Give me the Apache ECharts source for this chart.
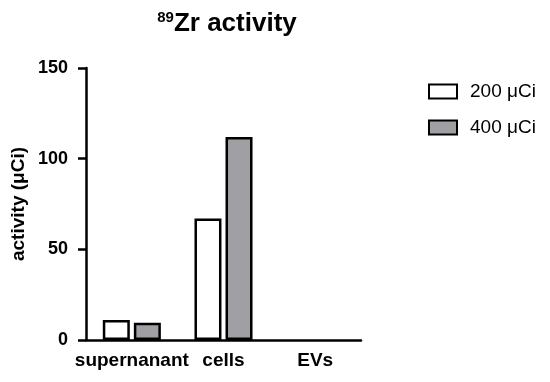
<!DOCTYPE html>
<html><head><meta charset="utf-8">
<script src="https://cdn.jsdelivr.net/npm/echarts@6/dist/echarts.min.js"></script>
<style>html,body{margin:0;padding:0;background:#fff}#c{width:550px;height:382px}</style>
</head><body><div id="c"></div>
<script>
const categories = ['supernanant', 'cells', 'EVs'];
const series200 = [11, 67, 0];
const series400 = [9.5, 112, 0];
const yTicks = [0, 50, 100, 150];

const toData = arr => arr.map(v => v === 0 ? {value: v, itemStyle: {borderWidth: 0}} : v);

const chart = echarts.init(document.getElementById('c'));
const font = 'Arial, Liberation Sans, sans-serif';
chart.setOption({
  animation: false,
  title: {
    text: '{sup|89}{main|Zr activity}',
    left: 222, top: 5, textAlign: 'center',
    textStyle: {
      rich: {
        sup: {fontSize: 15, fontWeight: 'bold', fontFamily: font, color: '#000', verticalAlign: 'top', padding: [0,0,12,0]},
        main: {fontSize: 26, fontWeight: 'bold', fontFamily: font, color: '#000'}
      }
    }
  },
  legend: {
    orient: 'vertical', left: 423, top: 77,
    icon: 'rect',
    itemWidth: 28, itemHeight: 14, itemGap: 17,
    textStyle: {fontSize: 19, fontFamily: font, color: '#000', padding: [0,0,0,8]},
    data: ['200 μCi', '400 μCi']
  },
  grid: {left: 86, right: 189, top: 68, bottom: 42, containLabel: false},
  xAxis: {
    type: 'category', data: categories,
    axisLine: {lineStyle: {color: '#000', width: 2.5}},
    axisTick: {alignWithLabel: true, length: 8, lineStyle: {color: '#000', width: 2.5}},
    axisLabel: {fontSize: 19, fontWeight: 'bold', fontFamily: font, color: '#000', margin: 11, interval: 0}
  },
  yAxis: {
    type: 'value', min: 0, max: 150, interval: 50,
    name: 'activity (μCi)', nameLocation: 'middle', nameGap: 58,
    nameTextStyle: {fontSize: 19, fontWeight: 'bold', fontFamily: font, color: '#000'},
    splitLine: {show: false},
    axisLine: {show: true, lineStyle: {color: '#000', width: 2.5}},
    axisTick: {show: true, length: 8, lineStyle: {color: '#000', width: 2.5}},
    axisLabel: {fontSize: 18, fontWeight: 'bold', fontFamily: font, color: '#000', margin: 18}
  },
  series: [
    {name: '200 μCi', type: 'bar', data: toData(series200), barWidth: 27, barGap: '15%',
     itemStyle: {color: '#ffffff', borderColor: '#000', borderWidth: 2.5}},
    {name: '400 μCi', type: 'bar', data: toData(series400), barWidth: 27,
     itemStyle: {color: '#a0a0a4', borderColor: '#000', borderWidth: 2.5}}
  ]
});
</script></body></html>
